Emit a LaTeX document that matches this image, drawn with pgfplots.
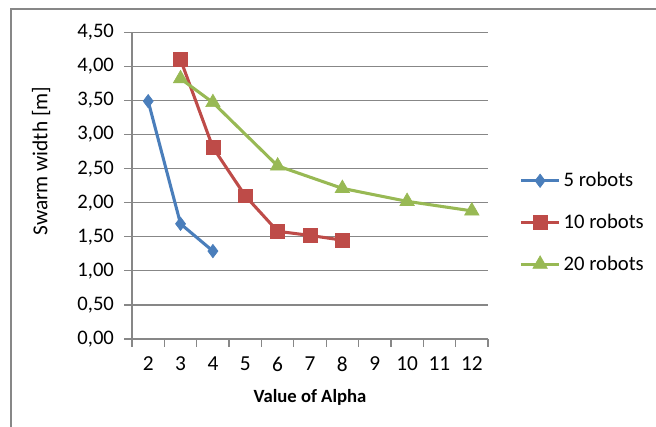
\documentclass[border=0pt]{standalone}
\usepackage{pgfplots}
\pgfplotsset{compat=1.18}
\usepackage{fontspec}
\setmainfont{Carlito}

\definecolor{serA}{HTML}{4A7EBB}
\definecolor{serB}{HTML}{BE4B48}
\definecolor{serC}{HTML}{98B954}
\definecolor{gridc}{HTML}{878787}

\begin{document}
\begin{tikzpicture}
\useasboundingbox (0,0) rectangle (492pt,320.25pt);
% chart frame (open on the right and bottom)
\draw[gridc, line width=1.4pt] (8.25pt,0pt) -- (8.25pt,313.5pt) -- (492pt,313.5pt);

\begin{axis}[
  at={(99pt,66pt)}, anchor=south west,
  scale only axis,
  width=267pt, height=230pt,
  xmin=1.5, xmax=12.5,
  ymin=0, ymax=4.5,
  axis x line*=bottom, axis y line*=left,
  axis line style={gridc, line width=0.9pt},
  xtick={2,...,12},
  minor xtick={1.5,2.5,...,12.5},
  major x tick style={draw=none},
  minor x tick style={gridc, line width=0.9pt},
  minor tick length=6pt,
  ytick={0,0.5,...,4.5},
  major y tick style={gridc, line width=0.9pt},
  major tick length=6pt,
  tick align=outside,
  ymajorgrids,
  major grid style={gridc, line width=0.9pt},
  /pgf/number format/.cd, fixed, fixed zerofill, precision=2, use comma, assume math mode=true,
  /pgfplots/.cd,
  xticklabel style={/pgf/number format/precision=0, /pgf/number format/fixed zerofill=false, font=\fontsize{16}{19}\selectfont, yshift=-4pt},
  yticklabel style={font=\fontsize{15.5}{18}\selectfont, xshift=-4pt},
  xlabel={\textbf{Value of Alpha}},
  xlabel style={font=\fontsize{14}{17}\selectfont, at={(rel axis cs:0.5,-0.189)}, anchor=center},
  ylabel={Swarm width [m]},
  ylabel style={font=\fontsize{16}{19}\selectfont, at={(rel axis cs:-0.255,0.58)}, anchor=center},
  legend style={at={(1.087,0.38)}, anchor=west, draw=none, fill=none,
    font=\fontsize{15.5}{18}\selectfont, row sep=15pt, inner sep=0pt,
    /tikz/every even column/.append style={column sep=0pt}},
  legend cell align=left,
  legend image code/.code={
    \draw[mark repeat=2, mark phase=2, #1] plot coordinates {(0pt,0pt) (14.5pt,0pt) (29pt,0pt)};
  },
  every axis plot/.append style={line width=2.3pt},
]
\addplot[serA, mark=diamond*, mark size=5pt, mark options={line width=0.5pt, fill=serA}]
  coordinates {(2,3.49) (3,1.69) (4,1.29)};
\addlegendentry{5 robots}
\addplot[serB, mark=square*, mark size=5.2pt, mark options={line width=0.5pt, fill=serB}]
  coordinates {(3,4.10) (4,2.81) (5,2.10) (6,1.58) (7,1.52) (8,1.45)};
\addlegendentry{10 robots}
\addplot[serC, mark=triangle*, mark size=6.2pt, mark options={line width=0.5pt, fill=serC}]
  coordinates {(3,3.82) (4,3.47) (6,2.54) (8,2.21) (10,2.02) (12,1.88)};
\addlegendentry{20 robots}
\end{axis}
\end{tikzpicture}
\end{document}
